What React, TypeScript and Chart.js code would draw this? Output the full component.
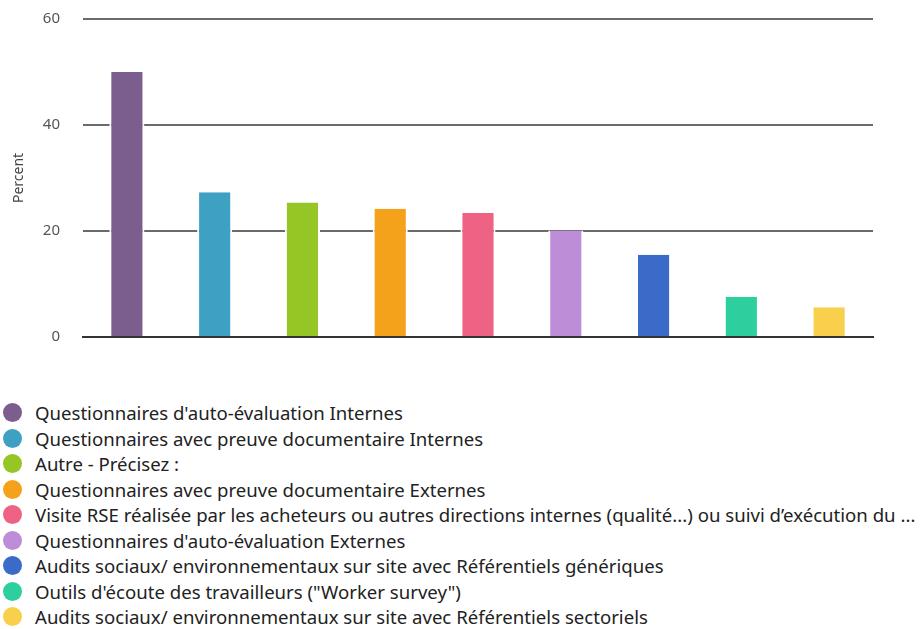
import React, { useEffect, useRef } from "react";
import { Chart, registerables } from "chart.js";

Chart.register(...registerables);

const categories: string[] = [
  "Questionnaires d'auto-évaluation Internes",
  "Questionnaires avec preuve documentaire Internes",
  "Autre - Précisez :",
  "Questionnaires avec preuve documentaire Externes",
  "Visite RSE réalisée par les acheteurs ou autres directions internes (qualité...) ou suivi d’exécution du ...",
  "Questionnaires d'auto-évaluation Externes",
  "Audits sociaux/ environnementaux sur site avec Référentiels génériques",
  "Outils d'écoute des travailleurs (\"Worker survey\")",
  "Audits sociaux/ environnementaux sur site avec Référentiels sectoriels",
];

const percentValues: number[] = [50, 27.3, 25.4, 24.2, 23.4, 20.1, 15.5, 7.6, 5.6];

const barColors: string[] = [
  "#7b5d8e",
  "#3ea0c2",
  "#95c626",
  "#f4a11b",
  "#ee6384",
  "#bd8dd8",
  "#3b6bc9",
  "#2ecf9f",
  "#f9d04b",
];

const yTicks: number[] = [0, 20, 40, 60];

const FONT = "'Noto Sans', sans-serif";

export default function App() {
  const canvasRef = useRef<HTMLCanvasElement | null>(null);

  useEffect(() => {
    document.body.style.margin = "0";
    const canvas = canvasRef.current;
    if (!canvas) return;
    const chart = new Chart(canvas, {
      type: "bar",
      data: {
        labels: categories,
        datasets: [
          {
            label: "Percent",
            data: percentValues,
            backgroundColor: barColors,
            borderColor: "#ffffff",
            borderWidth: { top: 0, left: 2, right: 2, bottom: 0 },
            borderSkipped: false,
            categoryPercentage: 1,
            barPercentage: 0.4,
          },
        ],
      },
      options: {
        animation: false,
        responsive: true,
        maintainAspectRatio: false,
        layout: { padding: { left: 0, right: 49, top: 19, bottom: 23 } },
        plugins: {
          legend: { display: false },
          tooltip: { enabled: false },
          title: { display: false },
        },
        scales: {
          x: {
            z: 1,
            ticks: { display: false },
            grid: { display: false, drawTicks: false },
            border: { display: true, color: "#333333", width: 2 },
          },
          y: {
            min: 0,
            max: 60,
            afterBuildTicks: (scale: any) => {
              scale.ticks = yTicks.map((v) => ({ value: v }));
            },
            afterFit: (scale: any) => {
              scale.width = 83;
            },
            ticks: {
              padding: 0,
              color: "#555555",
              font: { family: FONT, size: 15 },
            },
            grid: {
              color: "#6a6a6a",
              lineWidth: 2,
              drawTicks: true,
              tickLength: 23,
              tickColor: "rgba(0,0,0,0)",
            },
            border: { display: false },
            title: {
              display: true,
              text: "Percent",
              color: "#444444",
              font: { family: FONT, size: 14 },
              padding: { top: 11, bottom: 0 },
            },
          },
        },
      },
    });
    return () => chart.destroy();
  }, []);

  return (
    <div style={{ width: 922, height: 629, position: "relative", overflow: "hidden", background: "#fff" }}>
      <div style={{ position: "relative", width: 922, height: 360 }}>
        <canvas ref={canvasRef} />
      </div>
      <div style={{ position: "absolute", left: 0, top: 400, fontFamily: FONT, fontSize: 18.6, color: "#222" }}>
        {categories.map((c, i) => (
          <div key={i} style={{ display: "flex", alignItems: "center", height: 25.5, whiteSpace: "nowrap" }}>
            <span
              style={{
                display: "inline-block",
                width: 19,
                height: 19,
                borderRadius: "50%",
                background: barColors[i],
                marginLeft: 3,
                marginRight: 13,
                flex: "0 0 auto",
              }}
            />
            <span>{c}</span>
          </div>
        ))}
      </div>
    </div>
  );
}
